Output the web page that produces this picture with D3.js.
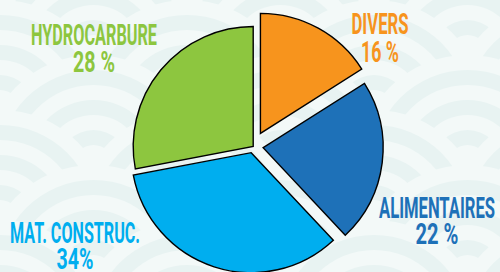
<!DOCTYPE html>
<html>
<head>
<meta charset="utf-8">
<script src="https://cdn.jsdelivr.net/npm/d3@7/dist/d3.min.js"></script>
<style>
  body { margin: 0; background: #eef7f6; }
  svg { display: block; }
</style>
</head>
<body>
<div id="chart"></div>
<script>
var width = 500;
var height = 272;

// data
var categories = ["Divers", "Alimentaires", "Mat. Construc.", "Hydrocarbure"];
var values = [16, 22, 34, 28];
var valueLabels = ["16 %", "22 %", "34%", "28 %"];

// styling
var colors = ["#f7941d", "#1e71b8", "#00aeef", "#8dc63f"];
var explode = [15, 10, 6.5, 0];
// label anchor [x, baseline of name, baseline of value, name width, value width]
var labelPos = [
    [380, 34, 61.5, 57, 38],
    [437, 217.5, 244, 116, 43],
    [75, 243, 269, 130, 37],
    [94, 45, 71.5, 126, 42]
];

var svg = d3.select("#chart")
    .append("svg")
    .attr("width", width)
    .attr("height", height);

// background: soft seigaiha waves
var bg = svg.append("g");
bg.append("rect").attr("width", width).attr("height", height).attr("fill", "#eef7f6");
var R = 110;
for (var row = -1; row < 7; ++row) {
    for (var col = -1; col < 4; ++col) {
        var cx = col * R * 1.7 + (row % 2 ? R * 0.85 : 0);
        var cy = row * R * 0.5;
        for (var k = 0; k < 7; ++k) {
            bg.append("circle")
                .attr("cx", cx)
                .attr("cy", cy)
                .attr("r", R - k * 15)
                .attr("fill", k % 2 ? "#e8f3f2" : "#f3f9f8");
        }
    }
}

var pie = d3.pie().sort(null).value(function (d) { return d; });
var arc = d3.arc().innerRadius(0).outerRadius(120);
var arcs = pie(values);

var g = svg.append("g").attr("transform", "translate(253.2,146.5)");

g.selectAll(".slice")
    .data(arcs)
    .enter()
    .append("path")
    .attr("class", "slice")
    .attr("d", arc)
    .attr("fill", function (d, i) { return colors[i]; })
    .attr("stroke", "#000")
    .attr("stroke-width", 1.4)
    .attr("stroke-linejoin", "miter")
    .attr("transform", function (d, i) {
        var a = (d.startAngle + d.endAngle) / 2;
        return "translate(" + (Math.sin(a) * explode[i]) + "," + (-Math.cos(a) * explode[i]) + ")";
    });

var labels = svg.append("g")
    .style("font-family", "Roboto, 'DejaVu Sans Condensed', sans-serif")
    .style("font-weight", "bold")
    .style("font-size", "22px")
    .attr("text-anchor", "middle");

// tall condensed lettering: stretch vertically from the baseline
function addLabel(x, y, w, txt, col) {
    labels.append("text")
        .attr("transform", "translate(" + x + "," + y + ") scale(1,1.3)")
        .attr("fill", col)
        .attr("textLength", w)
        .attr("lengthAdjust", "spacingAndGlyphs")
        .text(txt);
}

categories.forEach(function (c, i) {
    var p = labelPos[i];
    addLabel(p[0], p[1], p[3], c.toUpperCase(), colors[i]);
    addLabel(p[0], p[2], p[4], valueLabels[i], colors[i]);
});
</script>
</body>
</html>
